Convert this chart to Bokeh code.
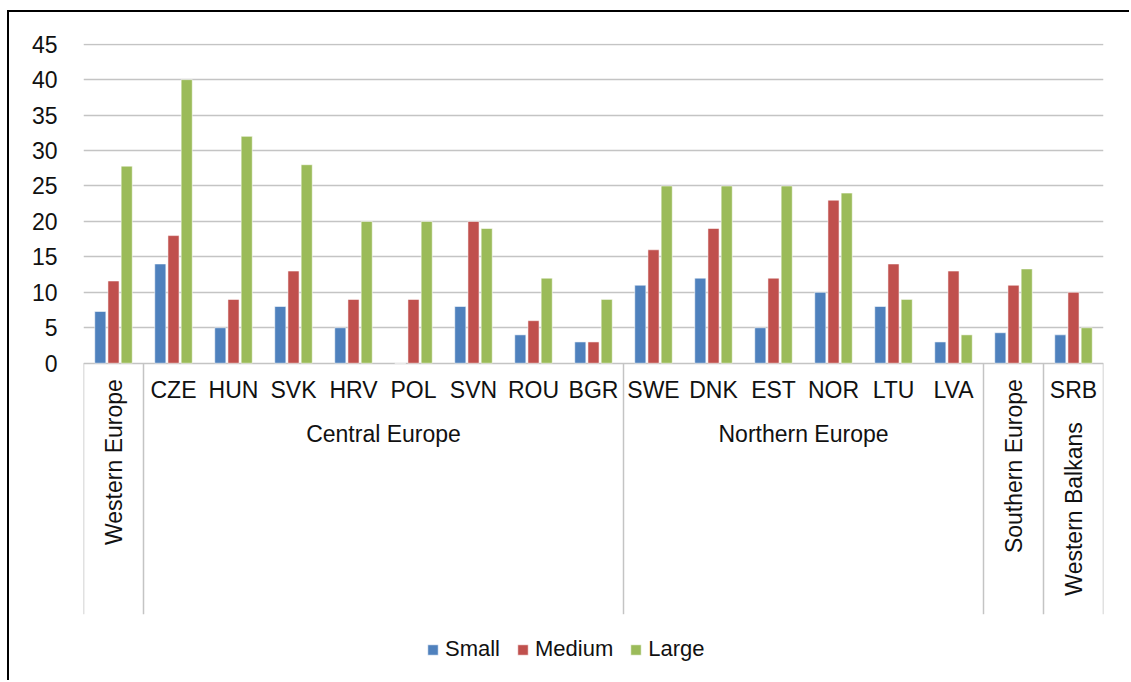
import math

from bokeh.core.properties import value
from bokeh.embed import file_html
from bokeh.models import (ColumnDataSource, FactorRange, FixedTicker, Legend,
                          LegendItem, Range1d)
from bokeh.plotting import figure
from bokeh.resources import INLINE
from bokeh.transform import dodge

# ---- data -----------------------------------------------------------------
categories = ["Western Europe", "CZE", "HUN", "SVK", "HRV", "POL", "SVN", "ROU",
              "BGR", "SWE", "DNK", "EST", "NOR", "LTU", "LVA",
              "Southern Europe", "SRB"]
small = [7.3, 14, 5, 8, 5, 0, 8, 4, 3, 11, 12, 5, 10, 8, 3, 4.3, 4]
medium = [11.6, 18, 9, 13, 9, 9, 20, 6, 3, 16, 19, 12, 23, 14, 13, 11, 10]
large = [27.8, 40, 32, 28, 20, 20, 19, 12, 9, 25, 25, 25, 24, 9, 4, 13.3, 5]

series = ["Small", "Medium", "Large"]
colors = ["#4F81BD", "#C0504D", "#9BBB59"]

region_names = ["Western Europe", "Central Europe", "Northern Europe",
                "Southern Europe", "Western Balkans"]
region_members = [
    ["Western Europe"],
    ["CZE", "HUN", "SVK", "HRV", "POL", "SVN", "ROU", "BGR"],
    ["SWE", "DNK", "EST", "NOR", "LTU", "LVA"],
    ["Southern Europe"],
    ["SRB"],
]
y_ticks = [0, 5, 10, 15, 20, 25, 30, 35, 40, 45]

# ---- styling / geometry ---------------------------------------------------
FONT = value("Liberation Sans")
FONT_NAME = "Liberation Sans"
TEXT_SIZE = "23px"
INK = "#111111"
GRID = "#c4c4c4"
W, H = 1122, 670
LEFT, RIGHT, TOP = 74, 28, 31
FRAME_H = H - TOP
PX_PER_UNIT = 319 / 45          # vertical scale of the value axis
Y_END = 45.1
Y_START = Y_END - FRAME_H / PX_PER_UNIT


def below_zero(px):
    """Position px pixels below the zero line, in value units."""
    return -px / PX_PER_UNIT


p = figure(width=W, height=H,
           x_range=FactorRange(factors=categories),
           y_range=Range1d(Y_START, Y_END),
           x_axis_location=None, toolbar_location=None, output_backend="svg",
           min_border_left=LEFT, min_border_right=RIGHT,
           min_border_top=TOP, min_border_bottom=0)
p.outline_line_color = None
p.xgrid.visible = False
p.ygrid.ticker = FixedTicker(ticks=y_ticks)
p.ygrid.grid_line_color = GRID
p.ygrid.grid_line_width = 1.5

ax = p.yaxis[0]
ax.ticker = FixedTicker(ticks=y_ticks)
ax.axis_line_color = None
ax.major_tick_line_color = None
ax.minor_tick_line_color = None
ax.major_label_standoff = 20
ax.major_label_text_font = FONT_NAME
ax.major_label_text_font_size = TEXT_SIZE
ax.major_label_text_color = INK

# ---- clustered bars -------------------------------------------------------
src = ColumnDataSource(dict(cat=categories, small=small, medium=medium, large=large))
offsets = [-0.22, 0.0, 0.22]
bar_renderers = []
for name, col, off in zip(series, colors, offsets):
    r = p.vbar(x=dodge("cat", off, range=p.x_range), top=name.lower(), bottom=0,
               width=0.185, source=src, fill_color=col, line_color="white",
               line_alpha=0.55, line_width=1)
    bar_renderers.append(r)

# ---- two-level category axis ---------------------------------------------
sep_bottom = below_zero(251)
edges = [[m[0], -0.5] for m in region_members] + [[region_members[-1][-1], 0.5]]
p.segment(x0=edges, x1=edges, y0=[0] * len(edges), y1=[sep_bottom] * len(edges),
          line_color=GRID, line_width=1.5)

label_kw = dict(text_font=FONT, text_font_size=TEXT_SIZE, text_color=INK,
                text_baseline="middle")
for rname, members in zip(region_names, region_members):
    if len(members) == 1 and members[0] == rname:
        # single-bar region: label standing upright in its slot
        p.text(x=[rname], y=[below_zero(16)], text=[rname], angle=math.pi / 2,
               text_align="right", **label_kw)
    elif len(members) == 1:
        p.text(x=members, y=[below_zero(27)], text=members, text_align="center",
               **label_kw)
        p.text(x=members, y=[below_zero(59)], text=[rname], angle=math.pi / 2,
               text_align="right", **label_kw)
    else:
        p.text(x=members, y=[below_zero(27)] * len(members), text=members,
               text_align="center", **label_kw)
        n = len(members)
        mid = [members[n // 2 - 1], 0.5] if n % 2 == 0 else [members[n // 2], 0.0]
        p.text(x=[mid], y=[below_zero(70.5)], text=[rname], text_align="center",
               **label_kw)

# ---- legend ---------------------------------------------------------------
items = [LegendItem(label=name, renderers=[r]) for name, r in zip(series, bar_renderers)]
legend = Legend(items=items, orientation="horizontal", location=(343, 20),
                glyph_width=13, glyph_height=13, label_standoff=6, spacing=16,
                padding=0, margin=0, border_line_color=None,
                background_fill_alpha=0, label_height=22,
                label_text_font=FONT_NAME, label_text_font_size="22px",
                label_text_color=INK)
p.add_layout(legend)

p.margin = (10, 0, 0, 7)
p.styles = {"border-left": "2px solid #000", "border-top": "2px solid #000"}

open("out.html", "w").write(file_html(p, INLINE))
